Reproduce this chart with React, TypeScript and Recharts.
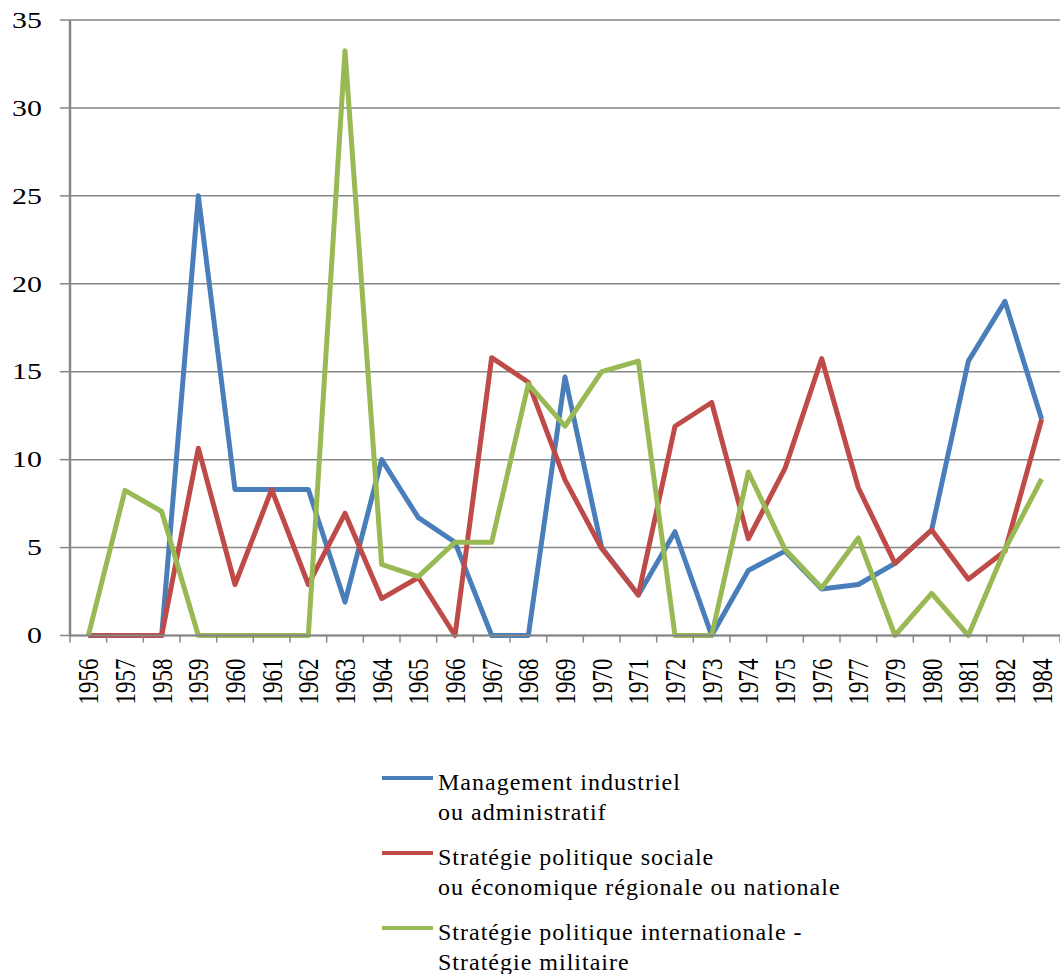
import { LineChart, Line, XAxis, YAxis, CartesianGrid, Legend } from "recharts";

const years = [
  "1956", "1957", "1958", "1959", "1960", "1961", "1962", "1963", "1964",
  "1965", "1966", "1967", "1968", "1969", "1970", "1971", "1972", "1973",
  "1974", "1975", "1976", "1977", "1979", "1980", "1981", "1982", "1984",
];

const management = [
  0, 0, 0, 25, 8.3, 8.3, 8.3, 1.9, 10, 6.7, 5.3, 0, 0, 14.7, 5, 2.3, 5.9, 0,
  3.7, 4.8, 2.65, 2.9, 4.1, 6, 15.6, 19, 12.3,
];

const strategieSociale = [
  0, 0, 0, 10.65, 2.9, 8.3, 2.9, 6.95, 2.1, 3.3, 0, 15.8, 14.4, 8.85, 4.95,
  2.3, 11.9, 13.25, 5.5, 9.5, 15.75, 8.4, 4.1, 6, 3.2, 4.8, 12.3,
];

const strategieInternationale = [
  0, 8.25, 7.05, 0, 0, 0, 0, 33.25, 4.05, 3.35, 5.3, 5.3, 14.3, 11.9, 15,
  15.6, 0, 0, 9.3, 4.9, 2.7, 5.55, 0, 2.4, 0, 4.9, 8.9,
];

const yTicks = [0, 5, 10, 15, 20, 25, 30, 35];

const seriesNames = [
  "Management industriel\nou administratif",
  "Stratégie politique sociale\nou économique régionale ou nationale",
  "Stratégie politique internationale -\nStratégie militaire",
];

const data = years.map((year, i) => ({
  year,
  management: management[i],
  sociale: strategieSociale[i],
  internationale: strategieInternationale[i],
}));

const GRAY = "#868686";
const FONT = "'Times New Roman', 'Liberation Serif', Tinos, Times, serif";
const PLOT_WIDTH = 990;
const STEP = PLOT_WIDTH / years.length;

function XTick(props: any) {
  const { x, y, payload, index } = props;
  const half = STEP / 2;
  return (
    <g>
      <line x1={x - half} x2={x - half} y1={y} y2={y + 7} stroke={GRAY} strokeWidth={1.5} />
      {index === years.length - 1 && (
        <line x1={x + half} x2={x + half} y1={y} y2={y + 7} stroke={GRAY} strokeWidth={1.5} />
      )}
      <text
        transform={`translate(${x},${y + 23}) rotate(-90) scale(1,1.3)`}
        textAnchor="end"
        dominantBaseline="central"
        fontSize={23}
        style={{ fontFamily: FONT }}
        fill="#000"
      >
        {payload.value}
      </text>
    </g>
  );
}

function YTick(props: any) {
  const { x, y, payload } = props;
  return (
    <text
      transform={`translate(${x},${y}) scale(1.3,1)`}
      textAnchor="end"
      dominantBaseline="central"
      fontSize={23}
      style={{ fontFamily: FONT }}
      fill="#000"
    >
      {payload.value}
    </text>
  );
}

function LegendBox(props: any) {
  const payload: any[] = props.payload || [];
  const ordered = seriesNames
    .map((name) => payload.find((p: any) => p.value === name))
    .filter(Boolean);
  return (
    <div style={{ fontFamily: FONT, fontSize: 24, letterSpacing: 1, color: "#000" }}>
      {ordered.map((entry: any) => (
        <div key={entry.value} style={{ display: "flex", alignItems: "flex-start", marginBottom: 15 }}>
          <svg width={51} height={30} style={{ flex: "none" }}>
            <line x1={0} x2={51} y1={11} y2={11} stroke={entry.color} strokeWidth={4} />
          </svg>
          <div style={{ marginLeft: 5, whiteSpace: "pre-line", lineHeight: "30px" }}>{entry.value}</div>
        </div>
      ))}
    </div>
  );
}

export default function App() {
  return (
    <div style={{ position: "absolute", left: 0, top: 0, background: "#fff" }}>
      <LineChart
        width={1060}
        height={974}
        data={data}
        margin={{ top: 20, right: 0, left: 0, bottom: 238.5 }}
        style={{ fontFamily: FONT }}
      >
        <CartesianGrid vertical={false} stroke={GRAY} strokeWidth={1.5} />
        <XAxis
          dataKey="year"
          interval={0}
          height={100}
          padding={{ left: STEP / 2, right: STEP / 2 }}
          axisLine={{ stroke: GRAY, strokeWidth: 2 }}
          tickLine={false}
          tickSize={0}
          tickMargin={0}
          tick={<XTick />}
        />
        <YAxis
          domain={[0, 35]}
          ticks={yTicks}
          interval={0}
          width={70}
          axisLine={{ stroke: GRAY, strokeWidth: 2.5 }}
          tickLine={{ stroke: GRAY, strokeWidth: 1.5 }}
          tickSize={10}
          tickMargin={18}
          tick={<YTick />}
        />
        <Legend
          layout="vertical"
          verticalAlign="middle"
          align="center"
          wrapperStyle={{ top: 767, left: 382, width: 640 }}
          content={<LegendBox />}
        />
        <Line
          type="linear"
          dataKey="management"
          name={seriesNames[0]}
          stroke="#4a7ebb"
          strokeWidth={5}
          dot={false}
          strokeLinejoin="round"
          isAnimationActive={false}
        />
        <Line
          type="linear"
          dataKey="sociale"
          name={seriesNames[1]}
          stroke="#be4b48"
          strokeWidth={5}
          dot={false}
          strokeLinejoin="round"
          isAnimationActive={false}
        />
        <Line
          type="linear"
          dataKey="internationale"
          name={seriesNames[2]}
          stroke="#98b954"
          strokeWidth={5}
          dot={false}
          strokeLinejoin="round"
          isAnimationActive={false}
        />
      </LineChart>
    </div>
  );
}
